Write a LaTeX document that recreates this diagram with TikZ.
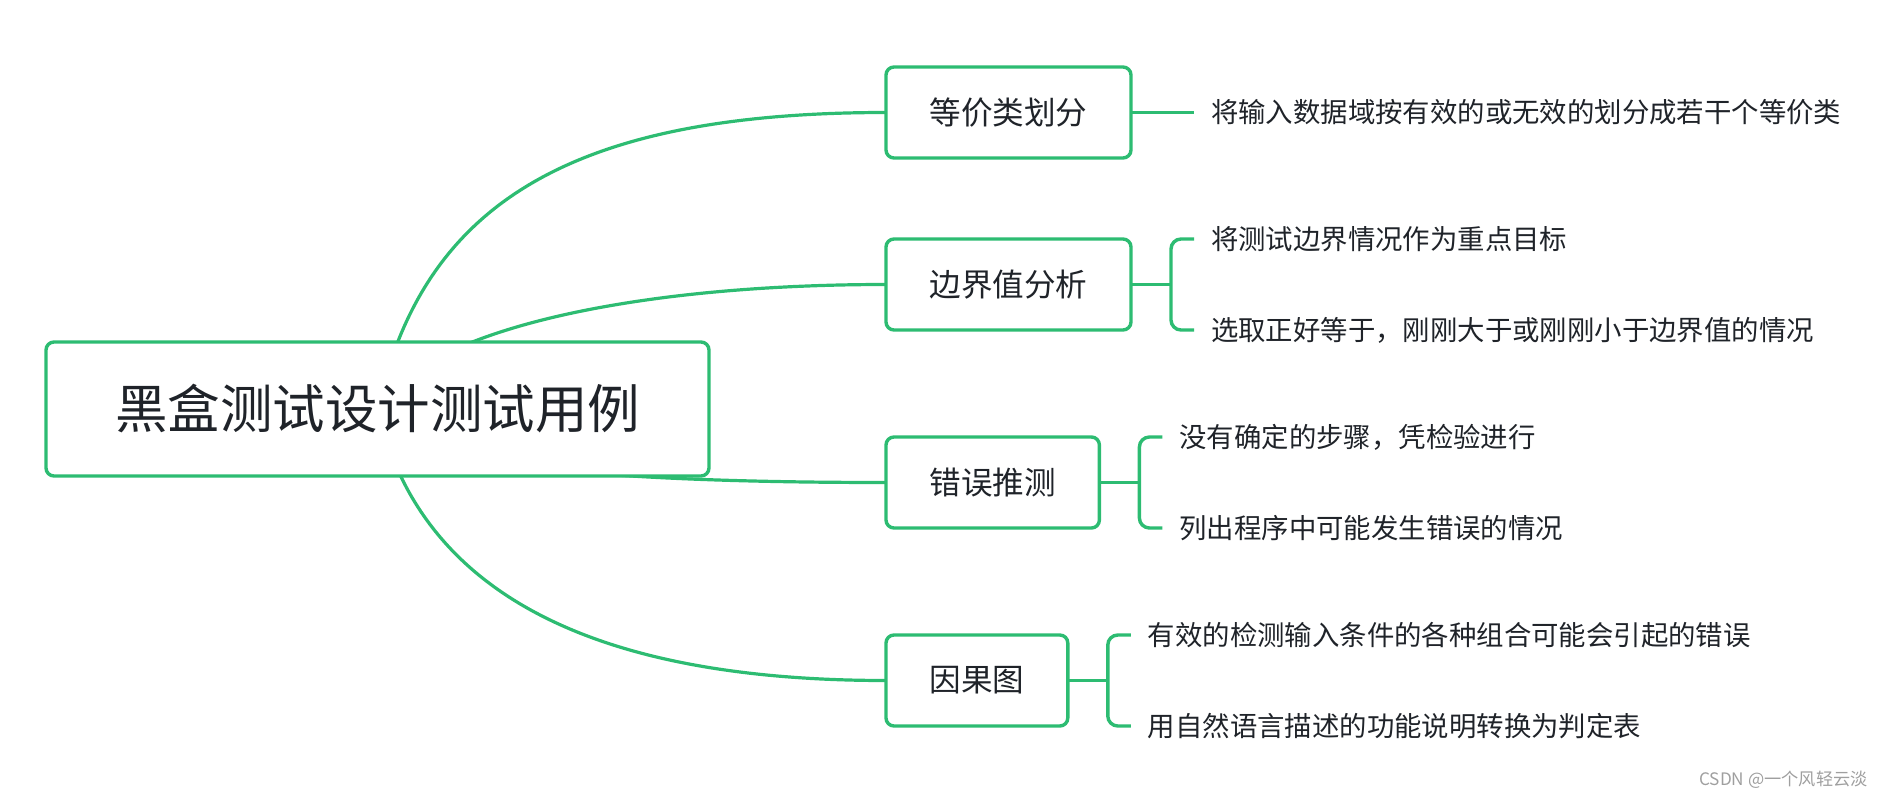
\documentclass[tikz,border=0pt]{standalone}
\usepackage{fontspec}
\setmainfont{Noto Sans CJK SC}
\usetikzlibrary{backgrounds}
\definecolor{mmgreen}{HTML}{2DBC72}
\definecolor{ink}{HTML}{1F2329}
\tikzset{
  rootbox/.style={draw=mmgreen, line width=1.7pt, rounded corners=4pt, fill=white, text=ink,
    minimum width=331.5pt, minimum height=67pt, inner sep=0pt, outer sep=0pt,
    font=\fontsize{26.25pt}{30pt}\selectfont},
  topic/.style={draw=mmgreen, line width=1.7pt, rounded corners=4pt, fill=white, text=ink,
    inner xsep=21.75pt, inner ysep=0pt, minimum height=45.5pt, outer sep=0pt, anchor=west,
    font=\fontsize{15.8pt}{18pt}\selectfont},
  leaf/.style={text=ink, inner xsep=8.5pt, inner ysep=0pt, outer sep=0pt, anchor=west,
    font=\fontsize{13.7pt}{16pt}\selectfont},
  branch/.style={draw=mmgreen, line width=1.6pt},
  fork/.style={draw=mmgreen, line width=1.7pt, rounded corners=5pt}
}
\begin{document}
\begin{tikzpicture}[x=0.5pt,y=-0.5pt]
\useasboundingbox (0,0) rectangle (1884,797);

\node[rootbox] (root) at (377.5,409) {黑盒测试设计测试用例};

\node[topic] (eq) at (886,112.5) {等价类划分};
\node[topic] (bv) at (886,284.5) {边界值分析};
\node[topic] (eg) at (886,482.5) {错误推测};
\node[topic] (ce) at (886,680.5) {因果图};

\node[leaf] (eq1) at ([xshift=31.5pt]eq.east) {将输入数据域按有效的或无效的划分成若干个等价类};
\node[leaf] (bv1) at ([xshift=31.5pt]bv.north east) {将测试边界情况作为重点目标};
\node[leaf] (bv2) at ([xshift=31.5pt]bv.south east) {选取正好等于，刚刚大于或刚刚小于边界值的情况};
\node[leaf] (eg1) at ([xshift=31.5pt]eg.north east) {没有确定的步骤，凭检验进行};
\node[leaf] (eg2) at ([xshift=31.5pt]eg.south east) {列出程序中可能发生错误的情况};
\node[leaf] (ce1) at ([xshift=31.5pt]ce.north east) {有效的检测输入条件的各种组合可能会引起的错误};
\node[leaf] (ce2) at ([xshift=31.5pt]ce.south east) {用自然语言描述的功能说明转换为判定表};

\begin{scope}[on background layer]
\draw[branch] (root.center) .. controls +(44.5,-198) and +(-326,0) .. (eq.west);
\draw[branch] (root.center) .. controls +(42,-75) and +(-266,0) .. (bv.west);
\draw[branch] (root.center) .. controls +(4.5,49) and +(-335,0) .. (eg.west);
\draw[branch] (root.center) .. controls +(41.5,181) and +(-298,0) .. (ce.west);
\end{scope}

\draw[fork] (eq.east) -- (eq1.west);
\foreach \t in {bv,eg,ce}{
  \coordinate (\t j) at ([xshift=20pt]\t.east);
  \draw[fork] (\t.east) -- (\t j);
  \draw[fork] (\t1.west) -| (\t j) |- (\t2.west);
}

\node[text=gray!75, inner sep=0pt, anchor=east, font=\fontsize{8.6pt}{10pt}\selectfont] (wmark) at (1868,780) {CSDN @一个风轻云淡};
\end{tikzpicture}
\end{document}
